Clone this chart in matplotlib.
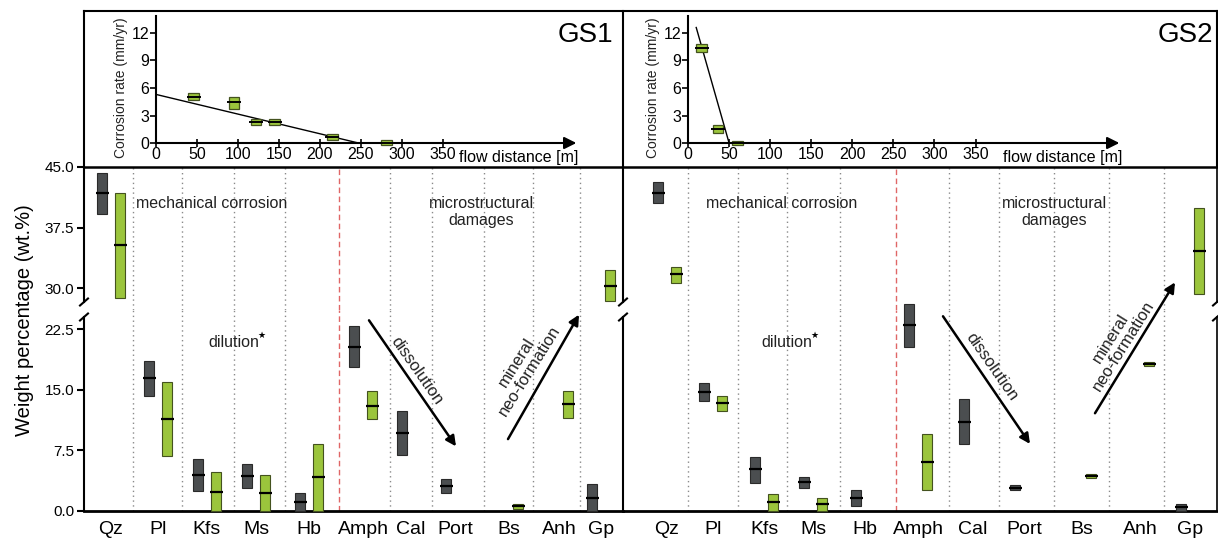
import matplotlib
matplotlib.use('Agg')
import matplotlib.pyplot as plt
from matplotlib.lines import Line2D

plt.rcParams['font.family'] = ['Liberation Sans', 'DejaVu Sans']

# ---- data ----
minerals = ['Qz', 'Pl', 'Kfs', 'Ms', 'Hb', 'Amph', 'Cal', 'Port', 'Bs', 'Anh', 'Gp']

# (min, median, max) weight %, None = not present
gs1_dark = [(39.2, 41.8, 44.3), (14.2, 16.5, 18.6), (2.5, 4.5, 6.4), (2.8, 4.3, 5.8),
            (0.0, 1.1, 2.2), (17.8, 20.3, 22.9), (6.9, 9.7, 12.4), (2.2, 3.1, 4.0),
            None, None, (0.0, 1.6, 3.3)]
gs1_green = [(28.8, 35.3, 41.8), (6.8, 11.4, 16.0), (0.0, 2.4, 4.8), (0.0, 2.2, 4.5),
             (0.0, 4.2, 8.3), (11.4, 13.0, 14.9), None, None,
             (0.25, 0.6, 0.9), (11.5, 13.2, 14.9), (28.4, 30.3, 32.3)]
gs2_dark = [(40.5, 41.8, 43.1), (13.6, 14.7, 15.8), (3.5, 5.2, 6.7), (2.8, 3.6, 4.2),
            (0.6, 1.6, 2.6), (20.3, 23.0, 25.6), (8.3, 11.0, 13.9), (2.6, 2.9, 3.2),
            None, None, (0.0, 0.5, 0.9)]
gs2_green = [(30.6, 31.8, 32.6), (12.4, 13.4, 14.2), (0.0, 1.1, 2.1), (0.0, 0.9, 1.6),
             None, (2.6, 6.1, 9.5), None, None,
             (4.1, 4.35, 4.6), (17.9, 18.2, 18.4), (29.3, 34.6, 39.9)]

# corrosion rate vs flow distance (distance, min, median, max)
gs1_dist = [46, 95, 122, 145, 215, 281]
gs1_rate_lo = [4.64, 3.73, 1.92, 1.92, 0.36, -0.18]
gs1_rate_med = [5.07, 4.46, 2.28, 2.28, 0.65, 0.04]
gs1_rate_hi = [5.47, 5.0, 2.64, 2.64, 1.01, 0.29]
gs1_fit_x = [0, 247]
gs1_fit_y = [5.3, 0]

gs2_dist = [16.6, 36.4, 60.5]
gs2_rate_lo = [9.93, 1.09, -0.2]
gs2_rate_med = [10.36, 1.53, 0.0]
gs2_rate_hi = [10.8, 1.93, 0.2]
gs2_fit_x = [10, 50]
gs2_fit_y = [12.6, 0]

# ---- layout (pixel units of the 1218x541 picture) ----
W, H = 1218, 541
fig = plt.figure(figsize=(12.18, 5.41), dpi=100)

def fbox(x0, y0, x1, y1):
    return [x0 / W, 1 - y1 / H, (x1 - x0) / W, (y1 - y0) / H]

def fline(pts, lw=1.5, color='k'):
    xs = [p[0] / W for p in pts]
    ys = [1 - p[1] / H for p in pts]
    fig.add_artist(Line2D(xs, ys, lw=lw, color=color, transform=fig.transFigure))

DARK = '#4b4e50'
GREEN = '#9bc53c'
UP_LIM = (27.36, 45)
LO_LIM = (0, 24.94)

def panel(x0, x1, centers, seps, red_sep, dark, green, left_labels, right_spine):
    up = fig.add_axes(fbox(x0, 167, x1, 309.5))
    lo = fig.add_axes(fbox(x0, 309.5, x1, 511))
    for ax, lim in ((up, UP_LIM), (lo, LO_LIM)):
        ax.set_facecolor('none')
        ax.set_xlim(0, x1 - x0)
        ax.set_ylim(*lim)
        ax.spines['top'].set_visible(False)
        ax.spines['right'].set_visible(right_spine)
        ax.spines['left'].set_linewidth(1.5)
        ax.spines['right'].set_linewidth(1.2)
        for s in seps:
            ax.axvline(s, color='#8a8a8a', ls=(0, (1, 2.5)), lw=1)
        ax.axvline(red_sep, color='#e06666', ls=(0, (4, 2.5)), lw=1)
    up.spines['bottom'].set_visible(False)
    up.spines['left'].set_bounds(28.3, 45)
    up.spines['right'].set_bounds(28.3, 45)
    lo.spines['left'].set_bounds(0, 24.0)
    lo.spines['right'].set_bounds(0, 24.0)
    lo.spines['bottom'].set_linewidth(2)
    up.set_xticks([])
    lo.set_xticks(centers)
    lo.set_xticklabels(minerals, fontsize=14)
    lo.tick_params(axis='x', length=0, pad=7)
    if left_labels:
        up.set_yticks([30, 37.5, 45])
        up.set_yticklabels(['30.0', '37.5', '45.0'], fontsize=11)
        lo.set_yticks([0, 7.5, 15, 22.5])
        lo.set_yticklabels(['0.0', '7.5', '15.0', '22.5'], fontsize=11)
        for ax in (up, lo):
            ax.tick_params(axis='y', direction='out', length=5, width=1.5, pad=2)
    else:
        for ax in (up, lo):
            ax.set_yticks([])

    for series, off, col, edge in ((dark, -9, DARK, '#2a2a2a'), (green, 9, GREEN, '#44521f')):
        for c, d in zip(centers, series):
            if d is None:
                continue
            lo_v, med, hi = d
            ax = up if lo_v > 26 else lo
            ax.bar(c + off, hi - lo_v, bottom=lo_v, width=10, color=col,
                   edgecolor=edge, lw=0.8, zorder=3, clip_on=False)
            ax.hlines(med, c + off - 6.5, c + off + 6.5, colors='k', lw=1.6,
                      zorder=4, clip_on=False)
    return up, lo

gs1_centers = [27, 74, 123, 172, 225, 279, 327, 371, 425, 475, 517]
gs1_seps = [49, 98, 150, 201, 306, 348, 400, 449, 496]
gs2_centers = [44, 90, 141, 190, 242, 295, 350, 401, 459, 517, 567]
gs2_seps = [65, 115, 164, 217, 326, 376, 431, 486, 541]

up1, lo1 = panel(84, 623, gs1_centers, gs1_seps, 255, gs1_dark, gs1_green, True, False)
up2, lo2 = panel(623, 1217, gs2_centers, gs2_seps, 273, gs2_dark, gs2_green, False, True)

# break marks on the broken spines
for xb in (84, 623, 1217):
    for yb in (302, 317):
        fline([(xb - 4, yb + 3.5), (xb + 4, yb - 3.5)], lw=1.5)

# box around the corrosion-rate insets
fline([(84, 11), (1217, 11)])
fline([(84, 167), (1217, 167)], lw=1.8)
fline([(84, 11), (84, 167)])
fline([(623, 11), (623, 167)])
fline([(1217, 11), (1217, 167)])

fig.text(25 / W, 1 - 320 / H, 'Weight percentage (wt.%)', rotation=90,
         ha='center', va='center', fontsize=14.5)

# annotations
def annotate(up, lo, mech_x, dil_x, micro_x, dis, dis_txt, mnf, mnf_txt):
    up.text(mech_x, 40.5, 'mechanical corrosion', ha='center', va='center', fontsize=11.5, color='#222')
    up.text(micro_x, 39.4, 'microstructural\ndamages', ha='center', va='center',
            fontsize=11.5, color='#222', linespacing=1.15)
    lo.text(dil_x, 20.9, 'dilution', ha='center', va='center', fontsize=11.5, color='#222')
    lo.annotate('\u2605', xy=(dil_x, 20.9), xytext=(20, 5), textcoords='offset points',
                fontsize=6.5, ha='center', va='center', family='DejaVu Sans')
    for (a, b) in (dis, mnf):
        lo.annotate('', xy=b, xytext=a, annotation_clip=False,
                    arrowprops=dict(arrowstyle='-|>', color='k', lw=1.8,
                                    mutation_scale=15, shrinkA=0, shrinkB=0))
    lo.text(dis_txt[0], dis_txt[1], 'dissolution', rotation=-55, rotation_mode='anchor',
            ha='center', va='center', fontsize=12, color='#222')
    lo.text(mnf_txt[0], mnf_txt[1], 'mineral\nneo-formation', rotation=58,
            rotation_mode='anchor', ha='center', va='center', fontsize=12,
            color='#222', linespacing=1.0)

annotate(up1, lo1, 128, 150, 397, ((285, 23.6), (372, 8.0)), (333, 17.3),
         ((424, 8.9), (495, 24.3)), (439, 17.9))
annotate(up2, lo2, 159, 164, 431, ((320, 24.1), (407, 8.3)), (369, 17.8),
         ((472, 12.1), (552, 28.3)), (494, 20.9))

# corrosion rate insets
def inset(x0, x1, xmax, dist, rlo, rmed, rhi, fx, fy, flow_x, name, name_x):
    ax = fig.add_axes(fbox(x0, 16.5, x1, 143))
    ax.set_facecolor('none')
    ax.set_xlim(0, xmax)
    ax.set_ylim(0, 13.8)
    for s in ('top', 'right', 'bottom'):
        ax.spines[s].set_visible(False)
    ax.spines['left'].set_linewidth(1.5)
    ax.set_yticks([0, 3, 6, 9, 12])
    ax.set_xticks(range(0, 351, 50))
    ax.tick_params(axis='y', direction='out', length=4, width=1.2, labelsize=11.5, pad=1)
    ax.tick_params(axis='x', direction='inout', length=6, width=1.2, labelsize=11.5, pad=0)
    ax.annotate('', xy=(xmax - 2, 0), xytext=(0, 0), annotation_clip=False,
                arrowprops=dict(arrowstyle='-|>', color='k', lw=1.5,
                                mutation_scale=18, shrinkA=0, shrinkB=0))
    ax.plot(fx, fy, color='k', lw=1, zorder=2)
    ax.bar(dist, [h - l for h, l in zip(rhi, rlo)], bottom=rlo, width=13,
           color=GREEN, edgecolor='#44521f', lw=0.9, zorder=3, clip_on=False)
    ax.hlines(rmed, [d - 8.5 for d in dist], [d + 8.5 for d in dist], colors='k', lw=1.4,
              zorder=4, clip_on=False)
    ax.text(flow_x, -1.55, 'flow distance [m]', ha='left', va='center', fontsize=11.5,
            clip_on=False)
    fig.text((x0 - 35) / W, 1 - 88 / H, 'Corrosion rate (mm/yr)', rotation=90,
             ha='center', va='center', fontsize=10, color='#222')
    fig.text(name_x / W, 1 - 35 / H, name, ha='right', va='center', fontsize=20)

inset(156, 578, 515, gs1_dist, gs1_rate_lo, gs1_rate_med, gs1_rate_hi,
      gs1_fit_x, gs1_fit_y, 370, 'GS1', 613)
inset(688, 1121, 527, gs2_dist, gs2_rate_lo, gs2_rate_med, gs2_rate_hi,
      gs2_fit_x, gs2_fit_y, 383, 'GS2', 1213)

fig.savefig('out.png', dpi=100)
